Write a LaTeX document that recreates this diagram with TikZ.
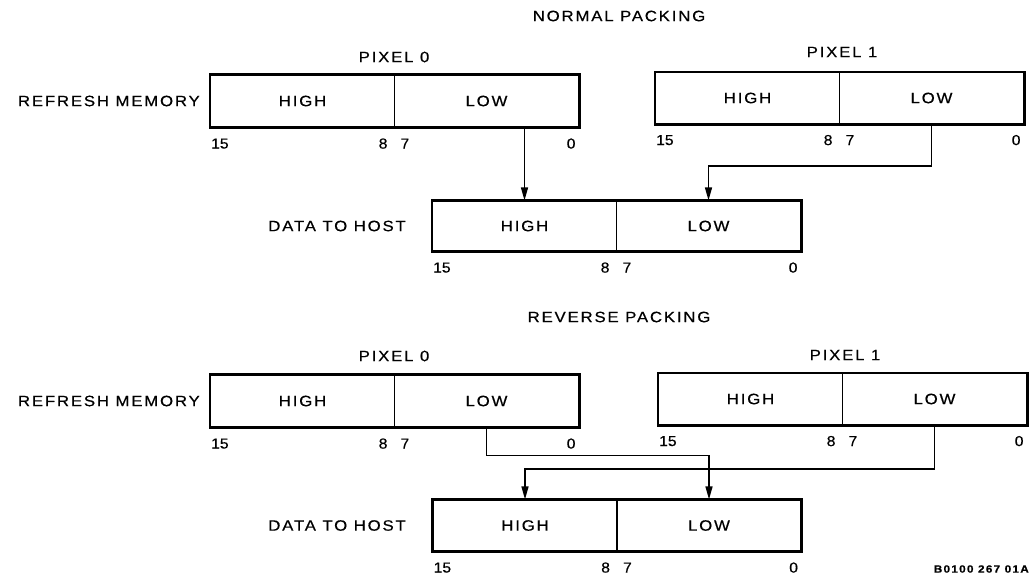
\documentclass[tikz,border=0pt]{standalone}
\usepackage{fontspec}
\setmainfont{Liberation Sans}[FakeStretch=1.12, LetterSpace=12, FakeBold=0.5]
\newfontfamily\numfont{Liberation Sans}[FakeStretch=1.08, FakeBold=0.5]
\usetikzlibrary{arrows.meta,calc}

\newcommand\bitlabels[2]{%
  \node[num] at ($(#1.south west)+(10,16)$) {15};
  \node[num] at ($(#1.south east)+(-12,16)$) {8};
  \node[num] at ($(#2.south west)+(11,16)$) {7};
  \node[num] at ($(#2.south east)+(-8,16)$) {0};
}

\begin{document}
\begin{tikzpicture}[x=1pt,y=-1pt,
  half/.style={draw, line width=1.2pt, minimum width=184pt, minimum height=52pt,
    inner sep=0pt, font=\fontsize{15}{17}\selectfont},
  frame/.style={line width=2.8pt},
  link/.style={line width=1.4pt, -{Triangle[length=13pt,width=7pt]}},
  lbl/.style={inner sep=0pt, font=\fontsize{15}{17}\selectfont},
  num/.style={inner sep=0pt, font=\numfont\fontsize{14.5}{16}\selectfont},
]
\useasboundingbox (0,0) rectangle (1031,579);

% ---------------- NORMAL PACKING ----------------
\node[lbl] (t1) at (619,16) {NORMAL PACKING};
\node[lbl] (t1p0) at (394,57) {PIXEL 0};
\node[lbl] (t1p1) at (842,52) {PIXEL 1};

\node[half] (ah) at (302.5,101) {HIGH};
\node[half] (al) at (486.5,101) {LOW};
\draw[frame] (ah.north west) rectangle (al.south east);
\bitlabels{ah}{al}
\node[lbl, anchor=east] (rm1) at (200,101) {REFRESH MEMORY};

\node[half, minimum height=51pt] (bh) at (747.5,98) {HIGH};
\node[half, minimum height=51pt] (bl) at (931.5,98) {LOW};
\draw[frame] (bh.north west) rectangle (bl.south east);
\bitlabels{bh}{bl}

\node[half, minimum height=50pt] (ch) at (524.5,226) {HIGH};
\node[half, minimum height=50pt] (cl) at (708.5,226) {LOW};
\draw[frame] (ch.north west) rectangle (cl.south east);
\bitlabels{ch}{cl}
\node[lbl, anchor=east] (dh1) at (406,226) {DATA TO HOST};

\draw[link] (ch.north |- al.south) -- (ch.north);
\draw[link] (bl.south) -- ++(0,42) -| (cl.north);

% ---------------- REVERSE PACKING ----------------
\node[lbl] (t2) at (619,317) {REVERSE PACKING};
\node[lbl] (t2p0) at (394,356) {PIXEL 0};
\node[lbl] (t2p1) at (845,355) {PIXEL 1};

\node[half] (dh) at (302.5,401) {HIGH};
\node[half] (dl) at (486.5,401) {LOW};
\draw[frame] (dh.north west) rectangle (dl.south east);
\bitlabels{dh}{dl}
\node[lbl, anchor=east] (rm2) at (200,401) {REFRESH MEMORY};

\node[half, minimum height=51pt] (eh) at (750.5,399) {HIGH};
\node[half, minimum height=51pt] (el) at (934.5,399) {LOW};
\draw[frame] (eh.north west) rectangle (el.south east);
\bitlabels{eh}{el}

\node[half, minimum height=51pt] (fh) at (525,525.5) {HIGH};
\node[half, minimum height=51pt] (fl) at (709,525.5) {LOW};
\draw[frame] (fh.north west) rectangle (fl.south east);
\bitlabels{fh}{fl}
\node[lbl, anchor=east] (dh2) at (406,525.5) {DATA TO HOST};

\draw[link] (dl.south) -- ++(0,28) -| (fl.north);
\draw[link] (el.south) -- ++(0,44) -| (fh.north);

\node[inner sep=0pt, anchor=east, font=\bfseries\fontsize{10.5}{12}\selectfont] (id) at (1029,569) {B0100 267 01A};
\end{tikzpicture}
\end{document}
